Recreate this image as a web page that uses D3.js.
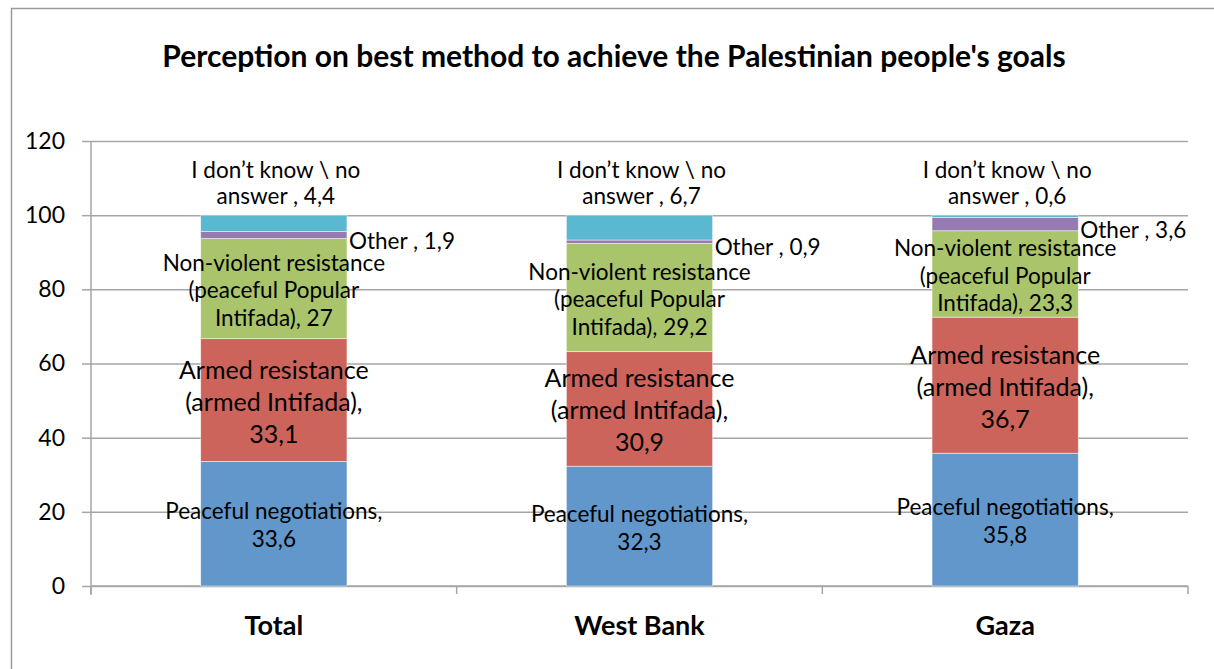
<!DOCTYPE html>
<html>
<head>
<meta charset="utf-8">
<script src="https://cdn.jsdelivr.net/npm/d3@7"></script>
<style>
  body { margin: 0; background: #fff; }
  svg { display: block; font-family: Lato, "Open Sans", sans-serif; }
</style>
</head>
<body>
<svg width="1214" height="669"></svg>
<script>
// data
const categories = ["Total", "West Bank", "Gaza"];
const peaceful   = [33.6, 32.3, 35.8];
const armed      = [33.1, 30.9, 36.7];
const nonViolent = [27, 29.2, 23.3];
const other      = [1.9, 0.9, 3.6];
const dontKnow   = [4.4, 6.7, 0.6];
const yTicks = [0, 20, 40, 60, 80, 100, 120];

const keys = ["peaceful", "armed", "nonViolent", "other", "dontKnow"];
const colors = ["#6197cb", "#cd645c", "#a9c46a", "#957bb2", "#5bb8d1"];

const rows = categories.map(function(c, i) {
  return { cat: c, peaceful: peaceful[i], armed: armed[i], nonViolent: nonViolent[i],
           other: other[i], dontKnow: dontKnow[i] };
});

function fmt(v) { return String(v).replace(".", ","); }

var svg = d3.select("svg");
var plotLeft = 91, plotRight = 1188, plotTop = 141, plotBottom = 586;

// chart border (runs off the right and bottom of the picture)
svg.append("rect")
  .attr("x", 11.5).attr("y", 8.5)
  .attr("width", 1300).attr("height", 700)
  .attr("fill", "none").attr("stroke", "#9a9a9a").attr("stroke-width", 1.5);

svg.append("text")
  .attr("x", 614).attr("y", 67)
  .attr("text-anchor", "middle")
  .attr("font-weight", "bold")
  .attr("font-size", 30)
  .text("Perception on best method to achieve the Palestinian people's goals");

var x = d3.scaleBand()
  .domain(categories)
  .range([plotLeft, plotRight])
  .paddingInner(0.6)
  .paddingOuter(0.3);

var y = d3.scaleLinear()
  .domain([0, 120])
  .range([plotBottom, plotTop]);

// y axis with gridlines
var yAxis = svg.append("g")
  .attr("transform", "translate(" + plotLeft + ",0)")
  .call(d3.axisLeft(y).tickValues(yTicks).tickSize(9).tickPadding(17));
yAxis.select(".domain").remove();
yAxis.selectAll(".tick line").attr("stroke", "#a6a6a6").attr("stroke-width", 1.5);
yAxis.selectAll(".tick text").attr("font-size", 23).attr("fill", "#000")
  .attr("font-family", "Lato, sans-serif");
yAxis.selectAll(".tick").append("line")
  .attr("x1", 0).attr("x2", plotRight - plotLeft)
  .attr("stroke", "#a6a6a6").attr("stroke-width", 1.5);

svg.append("line")
  .attr("x1", plotLeft).attr("x2", plotLeft)
  .attr("y1", plotTop).attr("y2", plotBottom + 9)
  .attr("stroke", "#a6a6a6").attr("stroke-width", 1.5);

// x axis
var xAxis = svg.append("g")
  .attr("transform", "translate(0," + plotBottom + ")")
  .call(d3.axisBottom(x).tickSize(0).tickPadding(30));
xAxis.select(".domain").remove();
xAxis.selectAll(".tick text").attr("font-size", 27).attr("font-weight", "bold")
  .attr("fill", "#000").attr("font-family", "Lato, sans-serif");

var bounds = d3.range(categories.length + 1).map(function(i) { return plotLeft + i * x.step(); });
svg.append("g").selectAll("line")
  .data(bounds)
  .enter().append("line")
  .attr("x1", function(d) { return d; }).attr("x2", function(d) { return d; })
  .attr("y1", plotBottom).attr("y2", plotBottom + 8)
  .attr("stroke", "#a6a6a6").attr("stroke-width", 1.5);
svg.append("line")
  .attr("x1", plotLeft).attr("x2", plotRight)
  .attr("y1", plotBottom).attr("y2", plotBottom)
  .attr("stroke", "#a6a6a6").attr("stroke-width", 1.5);

// stacked bars
var stacked = d3.stack().keys(keys)(rows);

var layers = svg.append("g").selectAll("g")
  .data(stacked)
  .enter().append("g")
  .attr("fill", function(d, i) { return colors[i]; });

layers.selectAll("rect")
  .data(function(d) { return d; })
  .enter().append("rect")
  .attr("x", function(d) { return x(d.data.cat); })
  .attr("y", function(d) { return y(d[1]); })
  .attr("height", function(d) { return y(d[0]) - y(d[1]); })
  .attr("width", x.bandwidth())
  .attr("stroke", "#fff").attr("stroke-opacity", 0.6).attr("stroke-width", 0.8);

// data labels
function labelLines(key, v) {
  if (key == "peaceful") return ["Peaceful negotiations,", fmt(v)];
  if (key == "armed") return ["Armed resistance", "(armed Intifada),", fmt(v)];
  if (key == "nonViolent") return ["Non-violent resistance", "(peaceful Popular", "Intifada), " + fmt(v)];
  if (key == "other") return ["Other , " + fmt(v)];
  return ["I don\u2019t know \\ no", "answer , " + fmt(v)];
}

var labels = [];
stacked.forEach(function(layer) {
  layer.forEach(function(d) {
    var key = layer.key;
    var v = d.data[key];
    var cx = x(d.data.cat) + x.bandwidth() / 2;
    var cy = y((d[0] + d[1]) / 2) + 2;
    var size = 22.5, lh = 28, anchor = "middle";
    if (key == "armed") { size = 25; lh = 32; }
    if (key == "nonViolent") { lh = 27.5; }
    if (key == "other") { cx = x(d.data.cat) + x.bandwidth() + 2; cy = cy + 4; anchor = "start"; }
    if (key == "dontKnow") { cx = cx + 2; cy = y(100) - 32; lh = 26.5; }
    labels.push({ lines: labelLines(key, v), x: cx, y: cy, size: size, lh: lh, anchor: anchor });
  });
});

var lab = svg.append("g").selectAll("text")
  .data(labels)
  .enter().append("text")
  .attr("text-anchor", function(d) { return d.anchor; })
  .attr("font-size", function(d) { return d.size; })
  .attr("fill", "#000");

lab.selectAll("tspan")
  .data(function(d) {
    return d.lines.map(function(t, i) {
      return { t: t, x: d.x, y: d.y - (d.lines.length - 1) * d.lh / 2 + i * d.lh + d.size * 0.34 };
    });
  })
  .enter().append("tspan")
  .attr("x", function(d) { return d.x; })
  .attr("y", function(d) { return d.y; })
  .text(function(d) { return d.t; });
</script>
</body>
</html>
